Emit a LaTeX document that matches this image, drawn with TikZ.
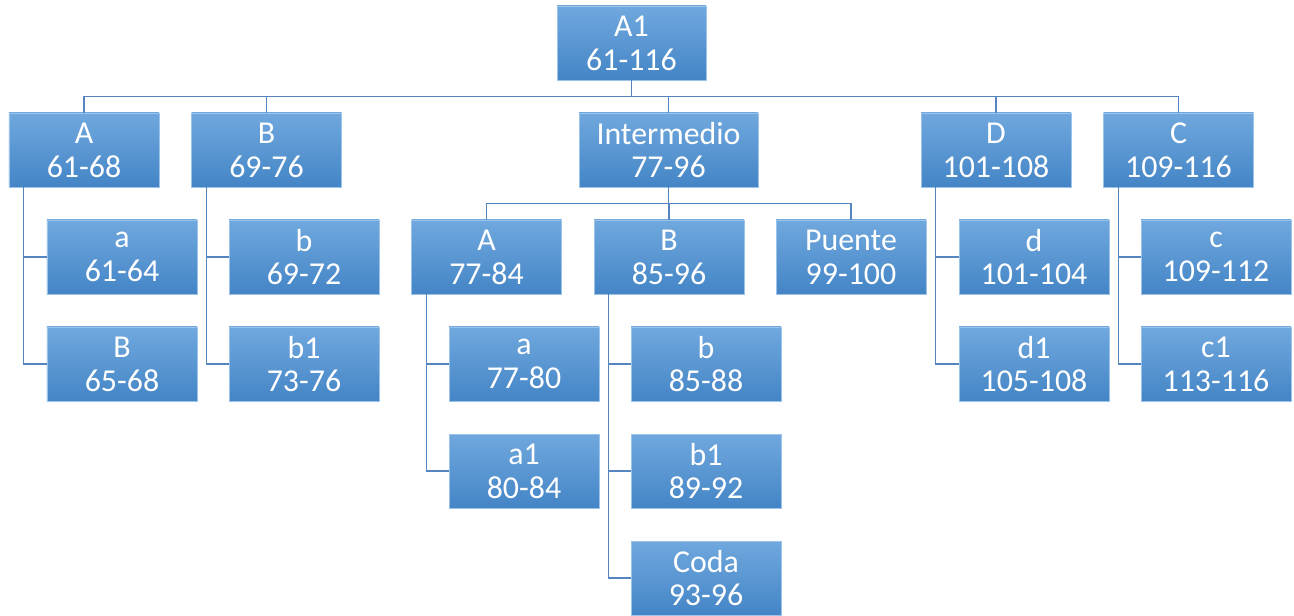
\documentclass[tikz,border=0pt]{standalone}
\usepackage{fontspec}
\setmainfont{Carlito}
\usetikzlibrary{positioning}

\definecolor{boxtop}{HTML}{70A8DE}
\definecolor{boxbot}{HTML}{4485C6}
\definecolor{boxline}{HTML}{9CC3EA}
\definecolor{linkblue}{HTML}{5585C0}

\tikzset{
  part/.style={rectangle, draw=boxline, line width=0.6bp, top color=boxtop, bottom color=boxbot,
    text=white, align=center, inner sep=0pt, minimum width=150bp, minimum height=74bp,
    font=\fontsize{32}{34}\selectfont},
  link/.style={draw=linkblue, line width=1.3bp}
}

\begin{document}
\begin{tikzpicture}[x=1bp, y=-1bp]
				\useasboundingbox (0,0) rectangle (1294,616);

				% Whole piece
				\node[part, minimum width=149bp] (top) at (631.5,43) {A1\\61-116};

				% Sections
				\node[part] (secA) at (84,150) {A\\61-68};
				\node[part] (secB) at (266.5,150) {B\\69-76};
				\node[part, minimum width=179bp] (inter) at (668.5,150) {Intermedio\\77-96};
				\node[part] (secD) at (996,150) {D\\101-108};
				\node[part] (secC) at (1178.5,150) {C\\109-116};

				% Parts of A and B
				\node[part] (a) at (122,257) {a\\61-64};
				\node[part] (aB) at (122,364) {B\\65-68};
				\node[part] (b) at (304,257) {b\\69-72};
				\node[part] (b1) at (304,364) {b1\\73-76};

				% Parts of the intermedio
				\node[part] (iA) at (486.5,257) {A\\77-84};
				\node[part] (iB) at (669,257) {B\\85-96};
				\node[part] (bridge) at (851,257) {Puente\\99-100};
				\node[part] (ia) at (524,364) {a\\77-80};
				\node[part] (ia1) at (524,471) {a1\\80-84};
				\node[part] (ib) at (706,364) {b\\85-88};
				\node[part] (ib1) at (706,471) {b1\\89-92};
				\node[part] (coda) at (706,578) {Coda\\93-96};

				% Parts of D and C
				\node[part] (d) at (1034,257) {d\\101-104};
				\node[part] (d1) at (1034,364) {d1\\105-108};
				\node[part] (c) at (1216,257) {c\\109-112};
				\node[part] (c1) at (1216,364) {c1\\113-116};

				% Buses
				\coordinate (bus) at (0,96.5);
				\coordinate (ibus) at (0,203.5);

				% Top level links
				\foreach \sec in {secA,secB,inter,secD,secC}
					\draw[link] (top.south) -- (top.south |- bus) -| (\sec.north);

				% Intermedio links
				\foreach \sec in {iA,iB,bridge}
					\draw[link] (inter.south) -- (inter.south |- ibus) -| (\sec.north);

				% Side links
				\draw[link] ([xshift=15bp]secA.south west) |- (a.west);
				\draw[link] ([xshift=15bp]secA.south west) |- (aB.west);
				\draw[link] ([xshift=15bp]secB.south west) |- (b.west);
				\draw[link] ([xshift=15bp]secB.south west) |- (b1.west);
				\draw[link] ([xshift=15bp]iA.south west) |- (ia.west);
				\draw[link] ([xshift=15bp]iA.south west) |- (ia1.west);
				\draw[link] ([xshift=15bp]iB.south west) |- (ib.west);
				\draw[link] ([xshift=15bp]iB.south west) |- (ib1.west);
				\draw[link] ([xshift=15bp]iB.south west) |- (coda.west);
				\draw[link] ([xshift=15bp]secD.south west) |- (d.west);
				\draw[link] ([xshift=15bp]secD.south west) |- (d1.west);
				\draw[link] ([xshift=15bp]secC.south west) |- (c.west);
				\draw[link] ([xshift=15bp]secC.south west) |- (c1.west);
\end{tikzpicture}
\end{document}
